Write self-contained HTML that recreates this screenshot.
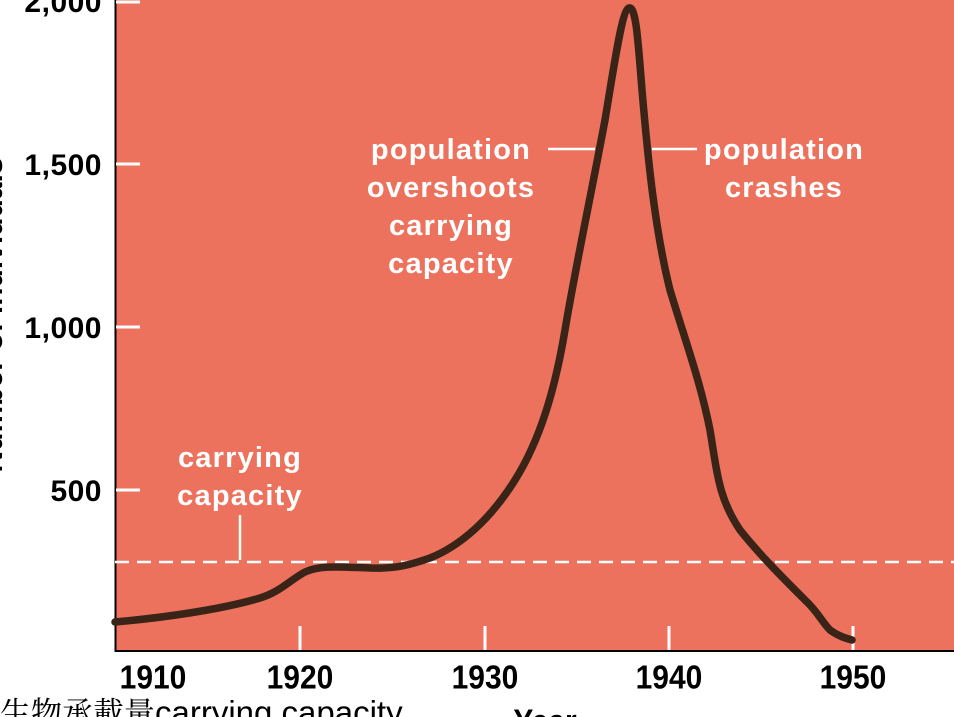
<!DOCTYPE html>
<html><head><meta charset="utf-8"><style>
html,body{margin:0;padding:0;background:#fff;width:954px;height:717px;overflow:hidden}
svg{display:block;font-family:"Liberation Sans",Arial,sans-serif}
</style></head><body>
<svg width="954" height="717" viewBox="0 0 954 717">
<rect x="115" y="-5" width="850" height="656" fill="#EC725E"/>
<line x1="115.5" y1="-5" x2="115.5" y2="652" stroke="#000" stroke-width="2"/>
<line x1="115" y1="651" x2="954" y2="651" stroke="#000" stroke-width="2"/>
<g stroke="#fff" stroke-width="3">
<line x1="116" y1="2" x2="140" y2="2"/><line x1="116" y1="164" x2="140" y2="164"/>
<line x1="116" y1="327" x2="140" y2="327"/><line x1="116" y1="490" x2="140" y2="490"/>
<line x1="300" y1="626" x2="300" y2="650"/><line x1="485" y1="626" x2="485" y2="650"/>
<line x1="669" y1="626" x2="669" y2="650"/><line x1="853" y1="626" x2="853" y2="650"/>
<line x1="115" y1="562" x2="954" y2="562" stroke-dasharray="14 8" stroke-width="2.5"/>
<line x1="240" y1="515" x2="240" y2="560" stroke-width="2.5"/>
<line x1="548" y1="149" x2="595" y2="149" stroke-width="2.5"/>
<line x1="652" y1="149" x2="697" y2="149" stroke-width="2.5"/>
</g>
<path d="M115,622 C160,618 220,610 260,598 C280,592 290,580 305,572 C320,565 340,567 370,568 C395,569 410,565 430,558 C460,546 490,520 515,480 C540,440 555,390 565,330 C575,270 590,200 605,120 C615,60 622,10 629,8 C636,6 638,40 642,90 C648,160 655,230 670,290 C685,340 700,380 710,430 C718,480 720,500 740,530 C760,555 780,575 805,600 C818,612 822,622 830,630 C838,636 845,638 852,640" fill="none" stroke="#3a2418" stroke-width="7.5" stroke-linecap="round" stroke-linejoin="round"/>
<g fill="#fff" font-weight="bold" font-size="29" letter-spacing="1.2" text-anchor="middle">
<text x="451" y="159">population</text><text x="451" y="197">overshoots</text>
<text x="451" y="235">carrying</text><text x="451" y="273">capacity</text>
<text x="784" y="159">population</text><text x="784" y="197">crashes</text>
<text x="240" y="467">carrying</text><text x="240" y="505">capacity</text>
</g>
<g fill="#000" font-weight="bold" font-size="30" text-anchor="end" letter-spacing="0.5">
<text x="102" y="12">2,000</text><text x="102" y="175">1,500</text>
<text x="102" y="338">1,000</text><text x="102" y="501">500</text>
</g>
<g fill="#000" font-weight="bold" font-size="30" text-anchor="middle" transform="scale(1,1.1)">
<text x="153" y="626">1910</text><text x="300" y="626">1920</text><text x="485" y="626">1930</text>
<text x="669" y="626">1940</text><text x="853" y="626">1950</text>
<text x="545" y="666">Year</text>
</g>
<text transform="translate(2,315) rotate(-90)" text-anchor="middle" font-weight="bold" font-size="30" fill="#000">Number of individuals</text>
<text x="0" y="724" font-size="31" fill="#000" font-family="'Liberation Serif','Noto Serif CJK SC',serif">生物承載量<tspan font-family="'Liberation Sans',sans-serif" font-size="33">carrying capacity</tspan></text>
</svg>
</body></html>
